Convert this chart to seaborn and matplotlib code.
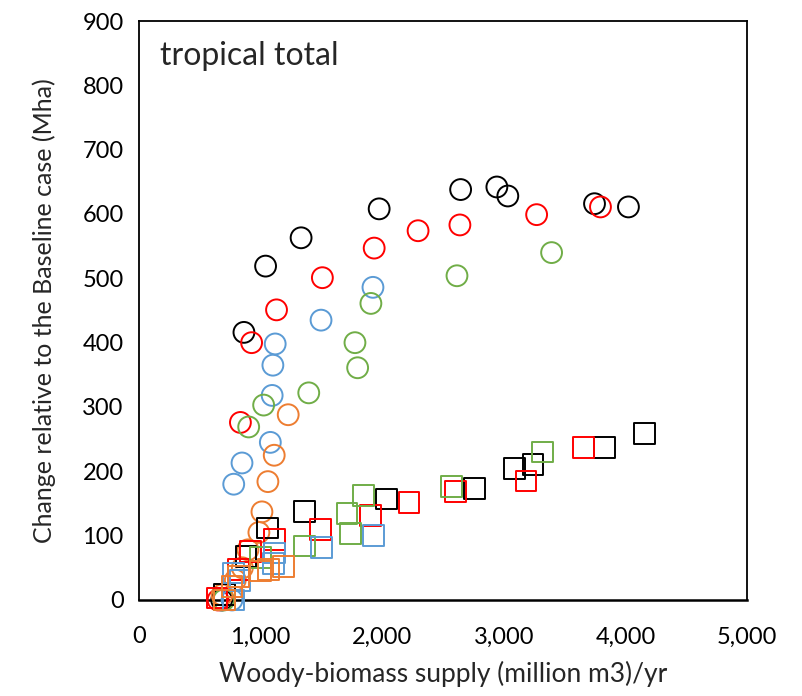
import matplotlib
matplotlib.use("Agg")
import matplotlib.pyplot as plt
import seaborn as sns
import pandas as pd

# ---- data ----
black_circle_x = [680, 863, 1041, 1333, 1975, 2645, 2943, 3033, 3746, 4025]
black_circle_y = [0, 416, 519, 563, 608, 638, 642, 628, 616, 611]

red_circle_x = [650, 834, 926, 1131, 1508, 1934, 2295, 2639, 3270, 3795]
red_circle_y = [0, 276, 400, 451, 501, 547, 574, 583, 599, 611]

blue_circle_x = [765, 779, 847, 1080, 1095, 1101, 1120, 1497, 1924]
blue_circle_y = [0, 180, 213, 245, 318, 365, 398, 435, 486]

green_circle_x = [697, 902, 1025, 1396, 1776, 1798, 1907, 2615, 3393]
green_circle_y = [0, 269, 303, 322, 400, 361, 461, 504, 540]

orange_circle_x = [683, 792, 850, 896, 986, 1011, 1060, 1112, 1227]
orange_circle_y = [8, 31, 50, 78, 105, 137, 184, 225, 288]

black_square_x = [700, 880, 1060, 1358, 2033, 2757, 3085, 3240, 3825, 4156]
black_square_y = [8, 67, 112, 138, 157, 173, 205, 210, 237, 259]

red_square_x = [642, 820, 916, 1115, 1492, 1904, 2221, 2601, 3183, 3656]
red_square_y = [3, 47, 75, 94, 110, 131, 152, 169, 185, 237]

green_square_x = [700, 1000, 1358, 1738, 1711, 1844, 2571, 3320]
green_square_y = [0, 66, 84, 103, 134, 162, 177, 230]

blue_square_x = [780, 779, 830, 1107, 1115, 1500, 1926]
blue_square_y = [0, 42, 30, 57, 73, 81, 100]

orange_square_x = [700, 765, 820, 1000, 1066, 1189]
orange_square_y = [0, 21, 36, 45, 47, 52]

x_ticks = [0, 1000, 2000, 3000, 4000, 5000]
x_tick_labels = ["0", "1,000", "2,000", "3,000", "4,000", "5,000"]
y_ticks = [0, 100, 200, 300, 400, 500, 600, 700, 800, 900]

series = [
    ("black", "o", black_circle_x, black_circle_y),
    ("red", "o", red_circle_x, red_circle_y),
    ("blue", "o", blue_circle_x, blue_circle_y),
    ("green", "o", green_circle_x, green_circle_y),
    ("orange", "o", orange_circle_x, orange_circle_y),
    ("black", "s", black_square_x, black_square_y),
    ("red", "s", red_square_x, red_square_y),
    ("green", "s", green_square_x, green_square_y),
    ("blue", "s", blue_square_x, blue_square_y),
    ("orange", "s", orange_square_x, orange_square_y),
]
colors = {"black": "#000000", "red": "#FF0000", "blue": "#5B9BD5",
          "green": "#70AD47", "orange": "#ED7D31"}

sns.set_style("white")
plt.rcParams["font.family"] = ["Lato", "DejaVu Sans"]

fig = plt.figure(figsize=(8.03, 6.96), dpi=100)
ax = fig.add_axes([139 / 803, 1 - 600 / 696, (747 - 139) / 803, (600 - 21) / 696])

for name, mk, xs, ys in series:
    df = pd.DataFrame({"x": xs, "y": ys})
    c = colors[name]
    sns.scatterplot(data=df, x="x", y="y", ax=ax, marker=mk, s=225,
                    facecolor="none", edgecolor=c, linewidth=1.4,
                    legend=False, zorder=3, clip_on=False)

ax.set_xlim(0, 5000)
ax.set_ylim(0, 900)
ax.set_xticks(x_ticks)
ax.set_xticklabels(x_tick_labels)
ax.set_yticks(y_ticks)
ax.tick_params(direction="in", length=6, width=1.2, labelsize=17,
               colors="black", pad=11)
ax.tick_params(axis="x", pad=19)
for s in ax.spines.values():
    s.set_visible(True)
    s.set_color("black")
    s.set_linewidth(1.3)
ax.spines["bottom"].set_linewidth(1.8)

ax.set_xlabel("Woody-biomass supply (million m3)/yr", fontsize=19, labelpad=10)
ax.set_ylabel("Change relative to the Baseline case (Mha)", fontsize=18, labelpad=19)
ax.text(0.035, 0.965, "tropical total", transform=ax.transAxes,
        fontsize=23, va="top", ha="left")

fig.savefig("out.png", dpi=100)
